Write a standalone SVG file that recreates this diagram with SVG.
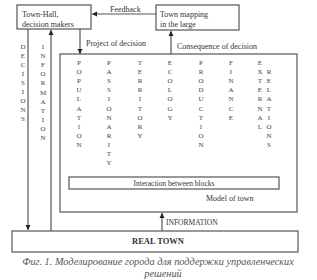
<svg xmlns="http://www.w3.org/2000/svg" width="317" height="280" viewBox="0 0 317 280">
<defs>
<style>
.box{fill:#fff;stroke:#555;stroke-width:1.2}
.ln{stroke:#555;stroke-width:1.2;fill:none}
.t{font-family:"Liberation Serif","Times New Roman",serif;font-size:8px;fill:#333}
.v{font-family:"Liberation Serif","Times New Roman",serif;font-size:7px;fill:#444;text-anchor:middle}
.cap{font-family:"Liberation Serif","Times New Roman",serif;font-size:10.3px;font-style:italic;fill:#555;text-anchor:middle}
</style>
<marker id="ah" markerWidth="6" markerHeight="6" refX="5" refY="3" orient="auto" markerUnits="userSpaceOnUse">
<path d="M0,0.5 L5,3 L0,5.5 Z" fill="#222"/>
</marker>
</defs>
<rect width="317" height="280" fill="#fff"/>

<g id="connectors">
<line class="ln" x1="156" y1="14" x2="92" y2="14" marker-end="url(#ah)"/>
<line class="ln" x1="80" y1="29" x2="80" y2="54" marker-end="url(#ah)"/>
<line class="ln" x1="171" y1="54" x2="171" y2="31" marker-end="url(#ah)"/>
<line class="ln" x1="28" y1="29" x2="28" y2="230" marker-end="url(#ah)"/>
<line class="ln" x1="51" y1="231" x2="51" y2="30" marker-end="url(#ah)"/>
<line class="ln" x1="162" y1="231" x2="162" y2="213" marker-end="url(#ah)"/>
<text class="t" x="110" y="12">Feedback</text>
<text class="t" x="86" y="46">Project of decision</text>
<text class="t" x="177" y="49">Consequence of decision</text>
<text class="t" x="166" y="225" style="font-size:7.5px">INFORMATION</text>
<text class="v" x="23" y="49">D<tspan x="23" dy="9">E</tspan><tspan x="23" dy="9">C</tspan><tspan x="23" dy="9">I</tspan><tspan x="23" dy="9">S</tspan><tspan x="23" dy="9">I</tspan><tspan x="23" dy="9">O</tspan><tspan x="23" dy="9">N</tspan><tspan x="23" dy="9">S</tspan></text>
<text class="v" x="43" y="49">I<tspan x="43" dy="9.1">N</tspan><tspan x="43" dy="9.1">F</tspan><tspan x="43" dy="9.1">O</tspan><tspan x="43" dy="9.1">R</tspan><tspan x="43" dy="9.1">M</tspan><tspan x="43" dy="9.1">A</tspan><tspan x="43" dy="9.1">T</tspan><tspan x="43" dy="9.1">I</tspan><tspan x="43" dy="9.1">O</tspan><tspan x="43" dy="9.1">N</tspan></text>
</g>

<g id="town-hall">
<rect class="box" x="17" y="5" width="74" height="24"/>
<text class="t" x="22" y="17">Town-Hall,</text>
<text class="t" x="22" y="27">decision makers</text>
</g>

<g id="town-mapping">
<rect class="box" x="156" y="5" width="83" height="25"/>
<text class="t" x="160" y="17">Town mapping</text>
<text class="t" x="160" y="27">in the large</text>
</g>

<g id="model-of-town">
<rect class="box" x="60" y="54" width="237" height="158"/>
<text class="t" x="206" y="201">Model of town</text>
<text class="v" x="79" y="65">P<tspan x="79" dy="9.1">O</tspan><tspan x="79" dy="9.1">P</tspan><tspan x="79" dy="9.1">U</tspan><tspan x="79" dy="9.1">L</tspan><tspan x="79" dy="9.1">A</tspan><tspan x="79" dy="9.1">T</tspan><tspan x="79" dy="9.1">I</tspan><tspan x="79" dy="9.1">O</tspan><tspan x="79" dy="9.1">N</tspan></text>
<text class="v" x="109" y="65">P<tspan x="109" dy="9.1">A</tspan><tspan x="109" dy="9.1">S</tspan><tspan x="109" dy="9.1">S</tspan><tspan x="109" dy="9.1">I</tspan><tspan x="109" dy="9.1">O</tspan><tspan x="109" dy="9.1">N</tspan><tspan x="109" dy="9.1">A</tspan><tspan x="109" dy="9.1">R</tspan><tspan x="109" dy="9.1">I</tspan><tspan x="109" dy="9.1">T</tspan><tspan x="109" dy="9.1">Y</tspan></text>
<text class="v" x="140" y="65">T<tspan x="140" dy="9.1">E</tspan><tspan x="140" dy="9.1">R</tspan><tspan x="140" dy="9.1">R</tspan><tspan x="140" dy="9.1">I</tspan><tspan x="140" dy="9.1">T</tspan><tspan x="140" dy="9.1">O</tspan><tspan x="140" dy="9.1">R</tspan><tspan x="140" dy="9.1">Y</tspan></text>
<text class="v" x="170" y="65">E<tspan x="170" dy="9.1">C</tspan><tspan x="170" dy="9.1">O</tspan><tspan x="170" dy="9.1">L</tspan><tspan x="170" dy="9.1">O</tspan><tspan x="170" dy="9.1">G</tspan><tspan x="170" dy="9.1">Y</tspan></text>
<text class="v" x="201" y="65">P<tspan x="201" dy="9.1">R</tspan><tspan x="201" dy="9.1">O</tspan><tspan x="201" dy="9.1">D</tspan><tspan x="201" dy="9.1">U</tspan><tspan x="201" dy="9.1">C</tspan><tspan x="201" dy="9.1">T</tspan><tspan x="201" dy="9.1">I</tspan><tspan x="201" dy="9.1">O</tspan><tspan x="201" dy="9.1">N</tspan></text>
<text class="v" x="231" y="65">F<tspan x="231" dy="9.1">I</tspan><tspan x="231" dy="9.1">N</tspan><tspan x="231" dy="9.1">A</tspan><tspan x="231" dy="9.1">N</tspan><tspan x="231" dy="9.1">C</tspan><tspan x="231" dy="9.1">E</tspan></text>
<text class="v" x="260" y="65">E<tspan x="260" dy="9.1">X</tspan><tspan x="260" dy="9.1">T</tspan><tspan x="260" dy="9.1">E</tspan><tspan x="260" dy="9.1">R</tspan><tspan x="260" dy="9.1">N</tspan><tspan x="260" dy="9.1">A</tspan><tspan x="260" dy="9.1">L</tspan></text>
<text class="v" x="269" y="74.1">R<tspan x="269" dy="9.1">E</tspan><tspan x="269" dy="9.1">L</tspan><tspan x="269" dy="9.1">A</tspan><tspan x="269" dy="9.1">T</tspan><tspan x="269" dy="9.1">I</tspan><tspan x="269" dy="9.1">O</tspan><tspan x="269" dy="9.1">N</tspan><tspan x="269" dy="9.1">S</tspan></text>
</g>

<g id="interaction">
<rect class="box" x="69" y="177" width="210" height="12"/>
<text class="t" x="174" y="186" style="text-anchor:middle;font-size:7.5px">Interaction between blocks</text>
</g>

<g id="real-town">
<rect class="box" x="12" y="231" width="286" height="21"/>
<text class="t" x="158" y="244" style="text-anchor:middle;font-size:8.5px;font-weight:bold">REAL TOWN</text>
</g>

<text class="cap" x="158" y="265">Фиг. 1. Моделирование города для поддержки управленческих</text>
<text class="cap" x="163" y="277">решений</text>
</svg>
